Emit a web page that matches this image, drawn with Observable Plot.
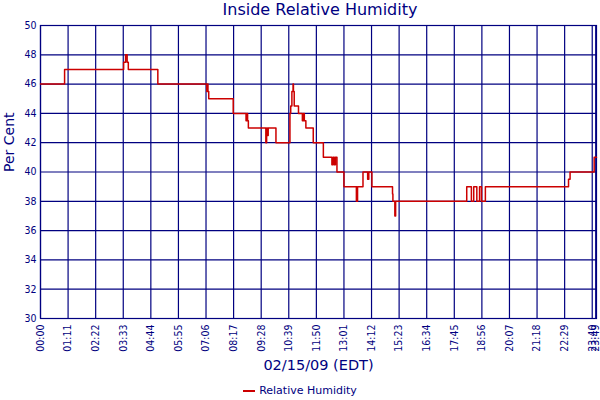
<!DOCTYPE html>
<html>
<head>
<meta charset="utf-8">
<script src="https://cdn.jsdelivr.net/npm/d3@7"></script>
<script src="https://cdn.jsdelivr.net/npm/@observablehq/plot@0.6"></script>
<style>
  body { margin: 0; background: white; width: 600px; overflow: hidden; position: relative; }
  #title { position: absolute; top: 0; left: 0; width: 560px; height: 22px; line-height: 22px; font: 16px "DejaVu Sans", sans-serif; color: #000080; text-align: center; padding-left: 40px; white-space: nowrap; }
  #chart svg { display: block; }
  #legend { height: 22px; line-height: 22px; padding-top: 6px; font: 11px "DejaVu Sans", sans-serif; color: #000080; text-align: center; white-space: nowrap; }
  #legend .sw { display: inline-block; width: 12px; height: 2px; background: #cc0000; vertical-align: middle; margin-right: 4px; }
</style>
</head>
<body>
<div id="chart"></div>
<div id="title">Inside Relative Humidity</div>
<div id="legend"><span class="sw"></span>Relative Humidity</div>
<script>
// Time of each reading (HH:MM, 02/15/09) and relative humidity (%)
const times = ["00:00","01:02","03:34","03:39","03:43","03:46","05:02","07:08","07:10","07:11","07:13",
  "08:16","08:49","08:51","08:53","08:55","09:40","09:42","09:44","09:46","10:06",
  "10:42","10:44","10:47","10:50","10:51","10:53","11:04","11:14","11:17","11:19","11:23",
  "11:42","12:08","12:30","12:33","12:36","12:39","12:43","13:01","13:33","13:36","13:50",
  "14:02","14:05","14:13","15:06","15:07","15:12","15:14","18:17","18:29","18:35","18:43",
  "18:50","18:55","19:05","22:39","22:43","23:45","23:51"];
const humidity = [46,47,47.5,48,47.5,47,46,45.5,46,45.5,45,
  44,43.5,44,43.5,43,42,43,42.5,43,42,
  44,44.5,45.5,46,45.5,44.5,44,43.5,44,43.5,43,
  42,41,40.5,41,40.5,41,40,39,38,39,40,
  39.5,40,39,38.5,38,37,38,39,38,39,38,
  39,38,39,39.5,40,41,41];
const xTickLabels = ["00:00","01:11","02:22","03:33","04:44","05:55","07:06","08:17","09:28","10:39",
  "11:50","13:01","14:12","15:23","16:34","17:45","18:56","20:07","21:18","22:29","23:40","23:49"];
const yTicks = [30,32,34,36,38,40,42,44,46,48,50];
const xDomainLabels = ["00:00","23:51"];
const yLabel = "Per Cent";
const xLabel = "02/15/09 (EDT)";

const toMin = s => { const [h, m] = s.split(":").map(Number); return h * 60 + m; };
const data = times.map((t, i) => ({t: toMin(t), v: humidity[i]}));
const xTicks = xTickLabels.map(toMin);
const labelOf = new Map(xTicks.map((m, i) => [m, xTickLabels[i]]));
const navy = "#000080";

const plot = Plot.plot({
  width: 600,
  height: 378,
  marginLeft: 40,
  marginRight: 4,
  marginTop: 25,
  marginBottom: 60,
  style: {fontFamily: "'DejaVu Sans Condensed', 'DejaVu Sans', sans-serif", fontSize: "10.5px", color: navy, background: "white"},
  x: {domain: xDomainLabels.map(toMin), ticks: xTicks, tickFormat: m => labelOf.get(m), tickRotate: -90, tickSize: 0, tickPadding: 6, label: null},
  y: {domain: [30, 50], ticks: yTicks, tickSize: 0, tickPadding: 4, label: null},
  marks: [
    Plot.gridX(xTicks, {stroke: navy, strokeOpacity: 1, strokeWidth: 1.2}),
    Plot.gridY(yTicks, {stroke: navy, strokeOpacity: 1, strokeWidth: 1.2}),
    Plot.frame({stroke: navy, strokeWidth: 1.2}),
    Plot.line(data, {x: "t", y: "v", curve: "step-after", stroke: "#cc0000", strokeWidth: 1.5}),
    Plot.text([yLabel], {text: d => d, frameAnchor: "left", dx: -31, rotate: -90, fill: navy, fontSize: 14, fontFamily: "'DejaVu Sans', sans-serif"}),
    Plot.text([xLabel], {text: d => d, frameAnchor: "bottom", dy: 51, fill: navy, fontSize: 14.5, fontFamily: "'DejaVu Sans', sans-serif"})
  ]
});
document.getElementById("chart").appendChild(plot);
</script>
</body>
</html>
